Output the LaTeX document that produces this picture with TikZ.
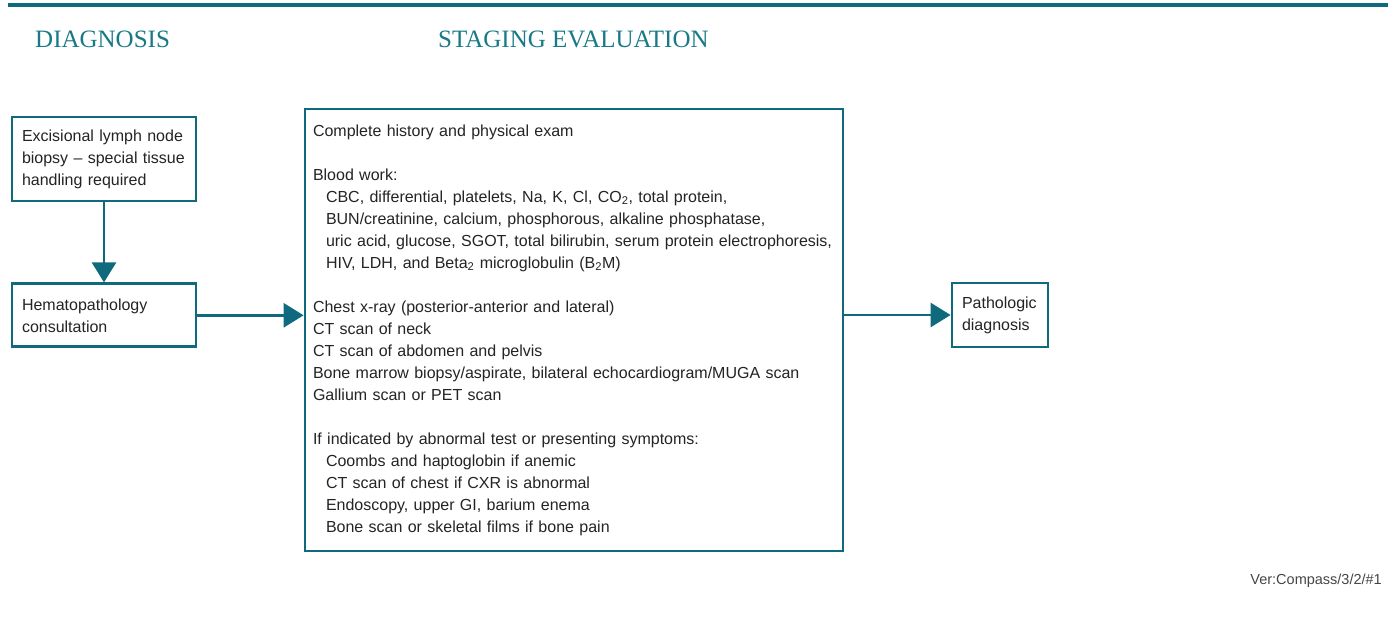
\documentclass[tikz,border=0pt]{standalone}
\usepackage{fontspec}
\setmainfont{Liberation Sans}
\newfontfamily\headfont{Liberation Serif}
\usetikzlibrary{positioning}
\usetikzlibrary{arrows.meta}

\definecolor{boxteal}{RGB}{16,106,126}
\definecolor{headteal}{RGB}{24,122,134}
\definecolor{txtgray}{RGB}{36,36,36}
\definecolor{vergray}{RGB}{70,70,70}

\begin{document}
\begin{tikzpicture}[
x=1pt,
y=-1pt,
box/.style={
	rectangle,
	draw=boxteal,
	line width=2.8pt,
	fill=white,
	align=left,
	inner xsep=10pt,
	inner ysep=4pt,
	text=txtgray,
	font=\fontsize{16}{22}\selectfont
},
head/.style={
	anchor=west,
	inner sep=0pt,
	text=headteal,
	font=\headfont\fontsize{25}{28}\selectfont
},
flow/.style={
	draw=boxteal,
	line width=2.8pt,
	-{Triangle[length=20pt,width=24pt]}
}
]
\useasboundingbox (0,0) rectangle (1397,624);

% Rule and headings
\draw [boxteal, line width=3.5pt] (8,5) -- (1388,5);
\node [head] (diag) at (35,39) {DIAGNOSIS};
\node [head] (stag) at (438,39) {STAGING EVALUATION};

% Diagnosis
\node [box, text width=164pt, minimum height=84pt] (excision) at (104,159) {Excisional lymph node\\biopsy – special tissue\\handling required};
\node [box, text width=164pt, minimum height=63pt, below=80pt of excision] (hemato) {Hematopathology\\consultation};

% Staging evaluation
\node [box, text width=522pt, inner xsep=8pt, minimum height=442pt] (staging) at (574,330) {Complete history and physical exam\\[22pt]
Blood work:\\
\hspace*{13pt}CBC, differential, platelets, Na, K, Cl, CO\textsubscript{2}, total protein,\\
\hspace*{13pt}BUN/creatinine, calcium, phosphorous, alkaline phosphatase,\\
\hspace*{13pt}uric acid, glucose, SGOT, total bilirubin, serum protein electrophoresis,\\
\hspace*{13pt}HIV, LDH, and Beta\textsubscript{2} microglobulin (B\textsubscript{2}M)\\[22pt]
Chest x-ray (posterior-anterior and lateral)\\
CT scan of neck\\
CT scan of abdomen and pelvis\\
Bone marrow biopsy/aspirate, bilateral echocardiogram/MUGA scan\\
Gallium scan or PET scan\\[22pt]
If indicated by abnormal test or presenting symptoms:\\
\hspace*{13pt}Coombs and haptoglobin if anemic\\
\hspace*{13pt}CT scan of chest if CXR is abnormal\\
\hspace*{13pt}Endoscopy, upper GI, barium enema\\
\hspace*{13pt}Bone scan or skeletal films if bone pain};

% Result
\node [box, text width=76pt, minimum height=64pt] (patho) at (1000,315) {Pathologic\\diagnosis};

% Arrows
\draw [flow] (excision) -- (hemato);
\draw [flow] (hemato) -- (hemato -| staging.west);
\draw [flow] (staging.east |- patho) -- (patho);

\node [anchor=east, inner sep=0pt, text=vergray, font=\fontsize{14.5}{16}\selectfont] (ver) at (1382,581) {Ver:Compass/3/2/\#1};

\end{tikzpicture}
\end{document}
